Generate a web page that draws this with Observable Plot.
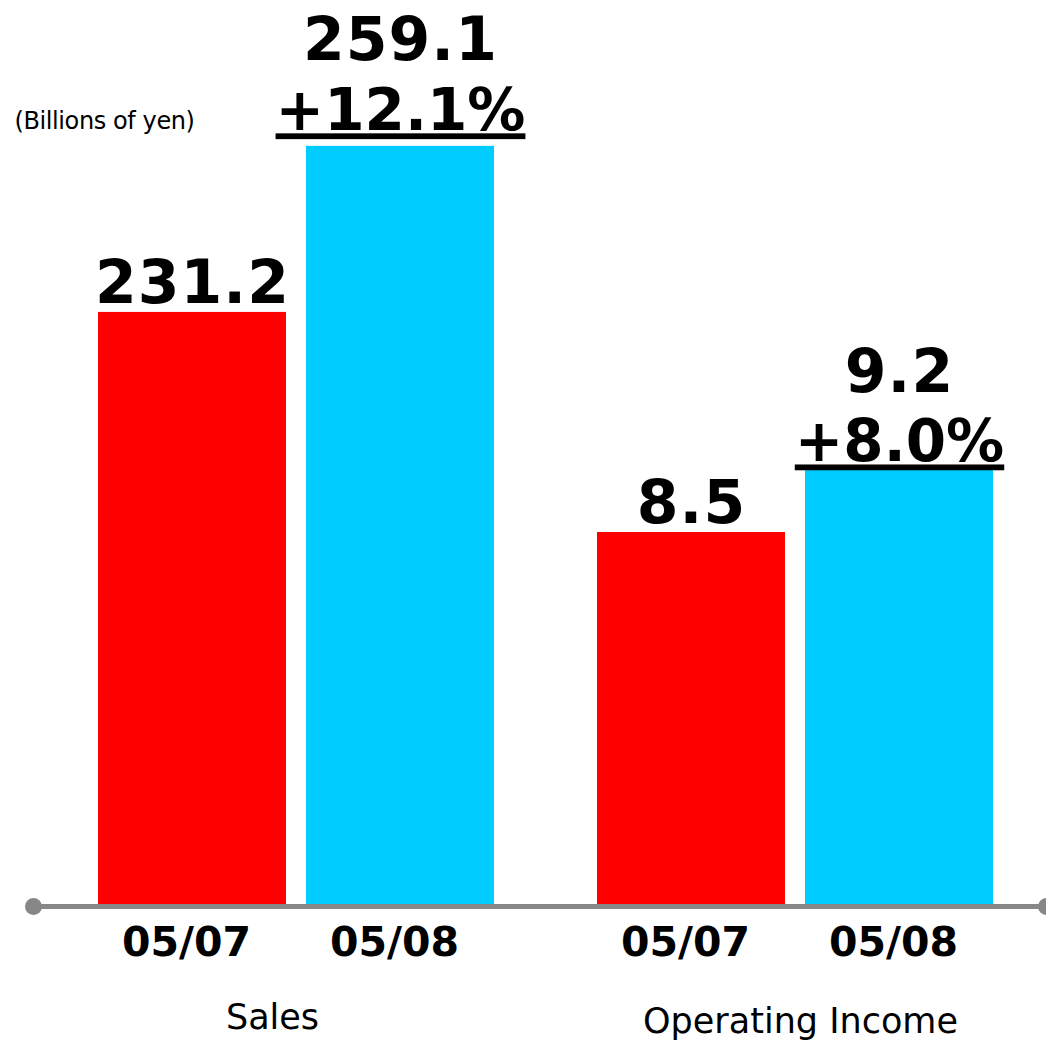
<!DOCTYPE html>
<html>
<head>
<meta charset="utf-8">
<script src="https://cdn.jsdelivr.net/npm/d3@7"></script>
<script src="https://cdn.jsdelivr.net/npm/@observablehq/plot@0.6"></script>
<style>
  html, body { margin: 0; padding: 0; background: #fff; }
  #wrap { display: flex; flex-direction: row; width: 1046px; height: 1040px; overflow: hidden; }
  #wrap svg { display: block; }
</style>
</head>
<body>
<div id="wrap"></div>
<script>
// ---- data ----
const groups = ["Sales", "Operating Income"];
const periods = ["05/07", "05/08"];
const salesValues = [231.2, 259.1];
const incomeValues = [8.5, 9.2];
const growthLabels = ["+12.1%", "+8.0%"];
const unitLabel = "(Billions of yen)";

const RED = "#ff0000";
const CYAN = "#00ccff";
const GRAY = "#878787";
const FONT = "DejaVu Sans, Verdana, sans-serif";

function groupChart({name, values, growth, width, marginLeft, marginRight, xRange, yDomain,
                     valueDy2, growthDy, labelDx, labelDy, dotAnchor, showUnit}) {
  const rows = periods.map((p, i) => ({period: p, value: values[i]}));
  const first = rows.filter(d => d.period === periods[0]);
  const second = rows.filter(d => d.period === periods[1]);
  const marks = [
    Plot.barY(rows, {x: "period", y: "value", fill: d => d.period === periods[0] ? RED : CYAN}),
    Plot.ruleY([0], {stroke: GRAY, strokeWidth: 5}),
    Plot.dot([null], {frameAnchor: dotAnchor, r: 8.5, fill: GRAY, stroke: "none"}),
    Plot.axisX({tickSize: 0, tickPadding: 20, fontSize: 41, fontWeight: "bold", label: null, dx: -6, fill: "#000"}),
    Plot.text(first, {x: "period", y: "value", text: d => d.value.toFixed(1), dy: -9,
      lineAnchor: "bottom", fontSize: 60, fontWeight: "bold", fill: "#000", ariaDescription: "value"}),
    Plot.text(second, {x: "period", y: "value", text: d => d.value.toFixed(1), dy: valueDy2,
      lineAnchor: "bottom", fontSize: 60, fontWeight: "bold", fill: "#000", ariaDescription: "value"}),
    Plot.text(second, {x: "period", y: "value", text: () => growth, dy: growthDy,
      lineAnchor: "bottom", fontSize: 58, fontWeight: "bold", fill: "#000", ariaDescription: "growth"}),
    Plot.text([name], {text: d => d, frameAnchor: "bottom", dx: labelDx, dy: labelDy,
      lineAnchor: "bottom", fontSize: 35, fill: "#000"})
  ];
  if (showUnit) {
    marks.push(Plot.text([unitLabel], {text: d => d, frameAnchor: "top-left", textAnchor: "start",
      dx: -19, dy: 128, lineAnchor: "bottom", fontSize: 24, fill: "#000", ariaDescription: "unit"}));
  }
  const svg = Plot.plot({
    width, height: 1040,
    marginLeft, marginRight, marginTop: 0, marginBottom: 134,
    style: {fontFamily: FONT, background: "#fff", overflow: "hidden"},
    x: {domain: periods, range: xRange, paddingInner: 0.0962, paddingOuter: 0, axis: null},
    y: {domain: yDomain, clamp: true, axis: null},
    marks
  });
  d3.select(svg).selectAll('g[aria-description="growth"] text')
    .style("text-decoration", "underline")
    .style("text-decoration-thickness", "3px");
  d3.select(svg).selectAll('g[aria-description="value"] text')
    .style("letter-spacing", "1px");
  d3.select(svg).selectAll('g[aria-description="unit"] text')
    .style("letter-spacing", "-0.4px");
  return svg;
}

const wrap = document.getElementById("wrap");
wrap.appendChild(groupChart({
  name: groups[0], values: salesValues, growth: growthLabels[0],
  width: 545, marginLeft: 33, marginRight: 0, xRange: [98, 494], yDomain: [131.4, 283.6],
  valueDy2: -86, growthDy: -16, labelDx: -17, labelDy: 122, dotAnchor: "bottom-left", showUnit: true
}));
wrap.appendChild(groupChart({
  name: groups[1], values: incomeValues, growth: growthLabels[1],
  width: 501, marginLeft: 0, marginRight: 0, xRange: [52, 448], yDomain: [4.344, 14.411],
  valueDy2: -77, growthDy: -8, labelDx: 4.5, labelDy: 126, dotAnchor: "bottom-right", showUnit: false
}));
</script>
</body>
</html>
